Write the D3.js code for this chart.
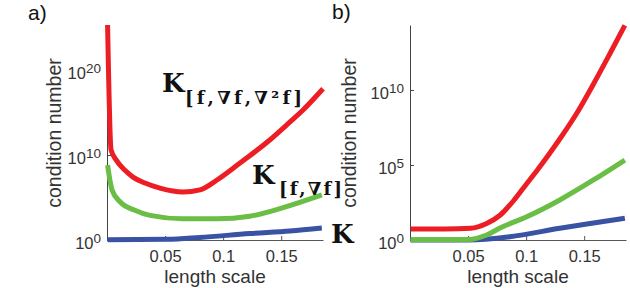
<!DOCTYPE html>
<html>
<head>
<meta charset="utf-8">
<script src="https://cdn.jsdelivr.net/npm/d3@7"></script>
<style>
  body { margin: 0; background: #fff; }
  svg { display: block; }
</style>
</head>
<body>
<div id="chart"></div>
<script>
// length scale samples (x) and log10 of the condition number (y)
// panel a)
const redA_x   = [0.0005, 0.0035, 0.008, 0.0155, 0.0224, 0.0327, 0.0456, 0.0654, 0.080, 0.0947, 0.1145, 0.1378, 0.1576, 0.1688, 0.186];
const redA_y   = [25.3, 10.6, 9.4, 8.2, 7.4, 6.7, 6.1, 5.65, 5.9, 7.06, 9.06, 11.5, 13.9, 15.3, 17.8];
const greenA_x = [0.0005, 0.0043, 0.0112, 0.024, 0.037, 0.0654, 0.0947, 0.123, 0.1516, 0.185];
const greenA_y = [8.8, 5.9, 4.5, 3.5, 2.9, 2.5, 2.5, 2.8, 3.8, 5.3];
const blueA_x  = [0.0005, 0.052, 0.080, 0.123, 0.1576, 0.185];
const blueA_y  = [0.03, 0.08, 0.3, 0.76, 1.06, 1.4];
// panel b)
const redB_x   = [0.0005, 0.03, 0.052, 0.066, 0.0775, 0.089, 0.100, 0.110, 0.120, 0.130, 0.144, 0.158, 0.172, 0.185];
const redB_y   = [0.73, 0.73, 0.78, 1.1, 1.65, 2.6, 3.7, 4.7, 5.75, 6.85, 8.5, 10.4, 12.4, 14.3];
const greenB_x = [0.0005, 0.05, 0.066, 0.0775, 0.100, 0.129, 0.158, 0.185];
const greenB_y = [0.02, 0.03, 0.33, 0.8, 1.53, 2.67, 4.0, 5.33];
const blueB_x  = [0.0005, 0.05, 0.086, 0.129, 0.158, 0.185];
const blueB_y  = [0.0, 0.0, 0.22, 0.78, 1.13, 1.45];

const xTicks  = [0.05, 0.1, 0.15];
const yTicksA = [0, 10, 20];
const yTicksB = [0, 5, 10];
const xLabel = "length scale";
const yLabel = "condition number";

const colors = { red: "#ec1e24", green: "#6abd45", blue: "#3a52a3" };

const svg = d3.select("#chart").append("svg")
  .attr("width", 630)
  .attr("height", 288);

function panel(p) {
  const x = d3.scaleLinear().domain([0, 0.186]).range([p.left, p.left + 216]);
  const y = d3.scaleLog().domain([1, Math.pow(10, p.topExp)]).range([240, 25]);
  const g = svg.append("g");

  const line = d3.line()
    .x(d => x(d[0]))
    .y(d => y(Math.pow(10, d[1])))
    .curve(d3.curveMonotoneX);

  // x axis
  const xa = g.append("g")
    .attr("transform", "translate(0,240)")
    .call(d3.axisBottom(x).tickValues(xTicks).tickFormat(d => String(d))
      .tickSizeInner(-4).tickSizeOuter(0).tickPadding(10));
  xa.select(".domain").attr("stroke", "#555");
  xa.selectAll(".tick line").attr("stroke", "#555");
  xa.selectAll("text")
    .attr("font-family", "Liberation Sans, Arial, sans-serif")
    .attr("font-size", 16.5)
    .attr("fill", "#333");

  // y axis, labels as 10^n
  const ya = g.append("g")
    .attr("transform", `translate(${p.left},0)`)
    .call(d3.axisLeft(y).tickValues(p.yTicks.map(e => Math.pow(10, e))).tickSizeInner(-4).tickSizeOuter(0).tickFormat(""));
  ya.select(".domain").attr("stroke", "#444");
  ya.selectAll(".tick line").attr("stroke", "#444");

  g.append("g").selectAll("text")
    .data(p.yTicks)
    .join("text")
    .attr("x", p.left - 6)
    .attr("y", e => y(Math.pow(10, e)) + 9)
    .attr("text-anchor", "end")
    .attr("font-family", "Liberation Sans, Arial, sans-serif")
    .attr("fill", "#333")
    .each(function (e) {
      const t = d3.select(this);
      t.append("tspan").attr("font-size", 16.5).text("10");
      t.append("tspan").attr("font-size", 13.5).attr("dy", -6).text(e);
    });

  // curves: blue under green under red
  p.series.forEach(s => {
    g.append("path")
      .datum(d3.zip(s.x, s.y))
      .attr("fill", "none")
      .attr("stroke", s.color)
      .attr("stroke-width", 5)
      .attr("d", line);
  });

  g.append("text")
    .attr("x", x(0.093))
    .attr("y", 283)
    .attr("text-anchor", "middle")
    .attr("font-family", "Liberation Sans, Arial, sans-serif")
    .attr("font-size", 19)
    .attr("fill", "#333")
    .text(xLabel);

  g.append("text")
    .attr("transform", `translate(${p.ylabelX},133) rotate(-90)`)
    .attr("text-anchor", "middle")
    .attr("font-family", "Liberation Sans, Arial, sans-serif")
    .attr("font-size", 19.5)
    .attr("fill", "#333")
    .text(yLabel);

  g.append("text")
    .attr("x", p.tagX)
    .attr("y", p.tagY)
    .attr("font-family", "Liberation Sans, Arial, sans-serif")
    .attr("font-size", 21)
    .attr("fill", "#111")
    .text(p.tag);
}

panel({
  left: 107, topExp: 25.3, yTicks: yTicksA, ylabelX: 61, tag: "a)", tagX: 28, tagY: 20,
  series: [
    { x: blueA_x, y: blueA_y, color: colors.blue },
    { x: greenA_x, y: greenA_y, color: colors.green },
    { x: redA_x, y: redA_y, color: colors.red }
  ]
});

panel({
  left: 410, topExp: 14.33, yTicks: yTicksB, ylabelX: 356, tag: "b)", tagX: 332, tagY: 19,
  series: [
    { x: blueB_x, y: blueB_y, color: colors.blue },
    { x: greenB_x, y: greenB_y, color: colors.green },
    { x: redB_x, y: redB_y, color: colors.red }
  ]
});

// matrix labels
const lab = svg.append("g")
  .attr("font-family", "DejaVu Serif, serif")
  .attr("font-weight", "bold")
  .attr("fill", "#111");

lab.append("text").attr("x", 162).attr("y", 92).attr("font-size", 26).text("K");
lab.append("text").attr("x", 185).attr("y", 104).attr("font-size", 18)
  .attr("textLength", 117).attr("lengthAdjust", "spacing").text("[f,\u2207f,\u2207\u00b2f]");

lab.append("text").attr("x", 252).attr("y", 184).attr("font-size", 26).text("K");
lab.append("text").attr("x", 279).attr("y", 195).attr("font-size", 18)
  .attr("textLength", 63).attr("lengthAdjust", "spacing").text("[f,\u2207f]");

lab.append("text").attr("x", 331).attr("y", 243).attr("font-size", 26).text("K");
</script>
</body>
</html>
